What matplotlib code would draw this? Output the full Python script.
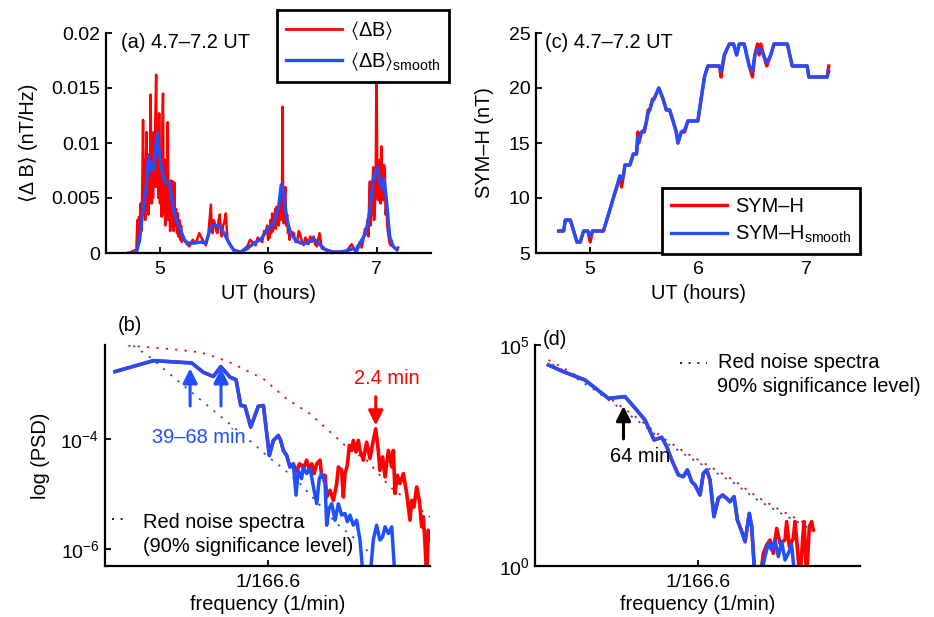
import numpy as np
import matplotlib
matplotlib.use("Agg")
import matplotlib.pyplot as plt
from matplotlib.ticker import NullLocator
from matplotlib.lines import Line2D

plt.rcParams['font.family'] = ['Liberation Sans', 'DejaVu Sans']
plt.rcParams['mathtext.fontset'] = 'custom'
plt.rcParams['mathtext.rm'] = 'Liberation Sans'
plt.rcParams['mathtext.it'] = 'Liberation Sans:italic'
plt.rcParams['mathtext.sf'] = 'Liberation Sans'
plt.rcParams['mathtext.fallback'] = 'stixsans'
plt.rcParams['font.size'] = 14.4

RED = '#ff0000'
BLUE = '#1f4fff'

# ---- (a) <dB> time series: (UT hours, nT/Hz) ----
db_raw_pts = [
    (4.709, 0.0), (4.780, 0.0003), (4.790, 0.0030), (4.798, 0.0012), (4.805, 0.0033),
    (4.812, 0.0010), (4.820, 0.0045), (4.828, 0.0020), (4.836, 0.0070), (4.842, 0.0121),
    (4.848, 0.0040), (4.855, 0.0085), (4.862, 0.0030), (4.868, 0.0080), (4.874, 0.0110),
    (4.880, 0.0040), (4.886, 0.0075), (4.892, 0.0035), (4.899, 0.0090), (4.906, 0.0050),
    (4.912, 0.0144), (4.920, 0.0045), (4.927, 0.0095), (4.934, 0.0050), (4.941, 0.0110),
    (4.948, 0.0060), (4.955, 0.0120), (4.963, 0.0162), (4.970, 0.0060), (4.977, 0.0105),
    (4.984, 0.0050), (4.991, 0.0127), (4.998, 0.0045), (5.005, 0.0090), (5.012, 0.0033),
    (5.020, 0.0110), (5.026, 0.0145), (5.033, 0.0035), (5.040, 0.0085), (5.047, 0.0025),
    (5.055, 0.0070), (5.062, 0.0040), (5.070, 0.0119), (5.077, 0.0030), (5.085, 0.0060),
    (5.092, 0.0020), (5.100, 0.0066), (5.108, 0.0025), (5.116, 0.0065), (5.124, 0.0020),
    (5.131, 0.0064), (5.139, 0.0025), (5.147, 0.0040), (5.155, 0.0018), (5.162, 0.0036),
    (5.170, 0.0015), (5.177, 0.0030), (5.185, 0.0012), (5.193, 0.0025), (5.200, 0.0010),
    (5.208, 0.0015), (5.239, 0.0009), (5.269, 0.0006), (5.300, 0.0012), (5.330, 0.0009),
    (5.361, 0.0018), (5.391, 0.0012), (5.422, 0.0007), (5.443, 0.0015), (5.468, 0.0044),
    (5.476, 0.0020), (5.483, 0.0018), (5.494, 0.0030), (5.505, 0.0027), (5.517, 0.0020),
    (5.529, 0.0018), (5.540, 0.0030), (5.550, 0.0035), (5.560, 0.0020), (5.569, 0.0015),
    (5.580, 0.0025), (5.590, 0.0027), (5.606, 0.0036), (5.621, 0.0012), (5.651, 0.0007),
    (5.682, 0.0003), (5.743, 0.0001), (5.804, 0.0006), (5.830, 0.0012), (5.850, 0.0010),
    (5.881, 0.0007), (5.900, 0.0014), (5.911, 0.0013), (5.942, 0.0010), (5.960, 0.0020),
    (5.972, 0.0018), (5.988, 0.0025), (5.996, 0.0012), (6.004, 0.0022), (6.011, 0.0014),
    (6.018, 0.0030), (6.026, 0.0018), (6.034, 0.0036), (6.041, 0.0020), (6.048, 0.0033),
    (6.055, 0.0024), (6.062, 0.0040), (6.068, 0.0022), (6.074, 0.0042), (6.081, 0.0026),
    (6.088, 0.0038), (6.095, 0.0025), (6.102, 0.0045), (6.110, 0.0030), (6.118, 0.0060),
    (6.124, 0.0035), (6.129, 0.0133), (6.135, 0.0040), (6.141, 0.0027), (6.148, 0.0050),
    (6.156, 0.0060), (6.163, 0.0025), (6.172, 0.0035), (6.180, 0.0018), (6.187, 0.0024),
    (6.195, 0.0012), (6.202, 0.0020), (6.233, 0.0018), (6.250, 0.0010), (6.263, 0.0010),
    (6.280, 0.0020), (6.294, 0.0016), (6.310, 0.0010), (6.325, 0.0007), (6.340, 0.0014),
    (6.355, 0.0012), (6.370, 0.0008), (6.386, 0.0015), (6.400, 0.0010), (6.416, 0.0015),
    (6.430, 0.0008), (6.447, 0.0006), (6.471, 0.0018), (6.493, 0.0004), (6.539, 0.0003),
    (6.600, 0.0001), (6.661, 0.0001), (6.722, 0.0002), (6.768, 0.0008), (6.799, 0.0002),
    (6.820, 0.0006), (6.844, 0.0010), (6.860, 0.0005), (6.875, 0.0012), (6.890, 0.0022),
    (6.906, 0.0019), (6.915, 0.0030), (6.922, 0.0015), (6.930, 0.0050), (6.936, 0.0065),
    (6.943, 0.0025), (6.951, 0.0036), (6.959, 0.0060), (6.967, 0.0078), (6.975, 0.0030),
    (6.982, 0.0040), (6.990, 0.0070), (6.997, 0.0178), (7.005, 0.0050), (7.013, 0.0048),
    (7.020, 0.0075), (7.028, 0.0085), (7.035, 0.0045), (7.043, 0.0097), (7.051, 0.0050),
    (7.059, 0.0048), (7.066, 0.0080), (7.074, 0.0075), (7.081, 0.0035), (7.089, 0.0042),
    (7.096, 0.0025), (7.104, 0.0018), (7.115, 0.0010), (7.126, 0.0007), (7.150, 0.0006),
    (7.181, 0.0003), (7.196, 0.0005)]
ut_db_s = [4.709, 4.780, 4.810, 4.841, 4.872, 4.893, 4.917, 4.939, 4.972, 4.994,
           5.016, 5.039, 5.085, 5.107, 5.138, 5.177, 5.223, 5.254, 5.315, 5.376,
           5.422, 5.468, 5.514, 5.544, 5.590, 5.636, 5.682, 5.743, 5.805, 5.865,
           5.927, 5.988, 6.049, 6.094, 6.117, 6.140, 6.165, 6.202, 6.248, 6.294,
           6.355, 6.416, 6.461, 6.523, 6.584, 6.661, 6.722, 6.783, 6.814, 6.844,
           6.899, 6.936, 6.966, 7.003, 7.028, 7.052, 7.067, 7.089, 7.119, 7.150,
           7.186]
db_smooth = [0.0, 0.0, 0.0012, 0.0039, 0.0060, 0.0088, 0.0075, 0.0077, 0.0109, 0.0088,
             0.0075, 0.0065, 0.0064, 0.0048, 0.0033, 0.0024, 0.0012, 0.0009, 0.0009, 0.0010,
             0.0009, 0.0024, 0.0025, 0.0025, 0.0018, 0.0009, 0.0002, 0.0001, 0.0004, 0.0009,
             0.0012, 0.0021, 0.0027, 0.0042, 0.0062, 0.0055, 0.0033, 0.0018, 0.0012, 0.0009,
             0.0009, 0.0013, 0.0009, 0.0003, 0.0001, 0.0001, 0.0002, 0.0004, 0.0002, 0.0009,
             0.0018, 0.0039, 0.0066, 0.0078, 0.0066, 0.0058, 0.0067, 0.0048, 0.0015, 0.0006,
             0.0003]

# ---- (c) SYM-H (nT) ----
ut_symh = [4.709, 4.755, 4.771, 4.817, 4.878, 4.908, 4.939, 4.979, 5.000, 5.021,
           5.122, 5.153, 5.184, 5.214, 5.245, 5.275, 5.290, 5.306, 5.321, 5.367,
           5.398, 5.428, 5.440, 5.450, 5.474, 5.500, 5.520, 5.535, 5.550, 5.575,
           5.590, 5.633, 5.673, 5.703, 5.734, 5.765, 5.795, 5.810, 5.841, 5.872,
           5.902, 5.994, 6.024, 6.055, 6.086, 6.116, 6.193, 6.208, 6.239, 6.284,
           6.324, 6.352, 6.376, 6.422, 6.468, 6.498, 6.520, 6.544, 6.560, 6.575,
           6.600, 6.630, 6.667, 6.697, 6.820, 6.865, 7.003, 7.018, 7.187, 7.202]
symh = [7, 7, 8, 8, 6, 6, 7, 7, 6, 7,
        7, 8, 9, 10, 11, 12, 11, 12, 13, 13,
        14, 14, 16, 15, 16, 16, 17, 18, 18, 19,
        19, 20, 19, 18, 18, 17, 16, 15, 16, 16,
        17, 17, 19, 21, 22, 22, 22, 21, 23, 24,
        24, 23, 24, 24, 22, 21, 23, 24, 23, 24,
        23, 22, 23, 24, 24, 22, 22, 21, 21, 22]
symh_smooth = [7, 7, 8, 8, 6, 6, 7, 7, 6.5, 7,
               7, 8, 9, 10, 11, 12, 11.7, 12, 13, 13,
               14, 14, 15.5, 15.3, 16, 16.2, 17, 17.7, 18, 18.8,
               19, 20, 19, 18, 18, 17, 16, 15, 16, 16.2,
               17, 17, 19, 21, 22, 22, 22, 21.5, 23, 24,
               24, 23, 24, 24, 22, 21.5, 23, 23.5, 23.5, 23.5,
               23, 22.3, 23, 24, 24, 22, 22, 21, 21, 21.5]

# ---- (b) PSD of <dB>, frequency in 1/min ----
f_b_smooth = [0.00381, 0.00760, 0.01514, 0.01866, 0.02234, 0.02553, 0.0302, 0.0336, 0.0366, 0.0395,
              0.0438, 0.0502, 0.0550, 0.0612, 0.0658, 0.0719, 0.0750, 0.0787, 0.0836, 0.0887,
              0.0942, 0.0989, 0.1030, 0.1094, 0.1127, 0.1199, 0.1274, 0.1352, 0.1436, 0.1503,
              0.1570, 0.1667, 0.1718, 0.1791, 0.1879, 0.1995, 0.2118, 0.2249, 0.2388, 0.2489,
              0.2612, 0.2773, 0.2944, 0.3126, 0.3319, 0.3524, 0.3741, 0.3972, 0.4217, 0.4477,
              0.4699, 0.4909, 0.5212, 0.5534, 0.5875]
psd_b_smooth = [1.71e-3, 2.70e-3, 2.45e-3, 1.66e-3, 1.39e-3, 2.10e-3, 1.35e-3, 1.22e-3, 4.13e-4, 4.01e-4,
                1.68e-4, 4.01e-4, 4.13e-4, 5.1e-5, 9.6e-5, 1.18e-4, 9.6e-5, 6.3e-5, 5.1e-5, 3.15e-5,
                3.6e-5, 9.7e-6, 2.74e-5, 1.94e-5, 3.15e-5, 2.39e-5, 2.94e-5, 1.37e-5, 6.8e-6, 1.94e-5,
                2.39e-5, 1.57e-5, 2.76e-6, 5.5e-6, 6.8e-6, 3.4e-6, 6.8e-6, 4.2e-6, 4.5e-6, 3.2e-6,
                4.2e-6, 2.76e-6, 3.4e-6, 1.48e-6, 3e-7, 3e-7, 3e-7, 1.48e-6, 2.76e-6, 1.48e-6,
                1.70e-6, 2.58e-6, 1.95e-6, 2.58e-6, 3e-7]
f_b_raw_hi = [0.0942, 0.1000, 0.1050, 0.1094, 0.1127, 0.1199, 0.1256, 0.1313, 0.1368, 0.1436,
              0.1524, 0.1570, 0.1667, 0.1718, 0.1824, 0.1936, 0.2056, 0.2118, 0.2249, 0.2317,
              0.2388, 0.2489, 0.2582, 0.2692, 0.2773, 0.2911, 0.3034, 0.3126, 0.3319, 0.3524,
              0.3741, 0.3972, 0.4150, 0.4345, 0.4477, 0.4699, 0.4909, 0.5212, 0.5534, 0.5702,
              0.5875, 0.6124, 0.6427, 0.6823, 0.7244, 0.7691, 0.7925, 0.8260, 0.8670, 0.9099,
              0.9484, 0.9772, 1.007, 1.038, 1.069, 1.102]
psd_b_raw_hi = [3.6e-5, 2.56e-5, 3.6e-5, 3.4e-5, 2.94e-5, 4.2e-5, 2.74e-5, 3.6e-5, 2.39e-5, 3.6e-5,
                4.2e-5, 2.08e-5, 2.23e-5, 9.0e-6, 1.19e-5, 7.8e-6, 1.57e-5, 3.15e-5, 2.74e-5, 9.0e-6,
                2.39e-5, 3.4e-5, 7.8e-5, 6.3e-5, 9.6e-5, 5.9e-5, 9.6e-5, 6.3e-5, 4.2e-5, 8.9e-5,
                4.5e-5, 9.6e-5, 1.56e-4, 6.3e-5, 2.74e-5, 4.8e-5, 2.08e-5, 6.3e-5, 3.15e-5, 6.3e-5,
                1.04e-5, 2.23e-5, 1.57e-5, 2.39e-5, 1.04e-5, 3.4e-6, 7.8e-6, 5.9e-6, 1.37e-5, 7.8e-6,
                2.58e-6, 3.9e-6, 1.29e-6, 3e-7, 2.24e-6, 1.48e-6]
f_b_noise_raw = [0.00484, 0.00716, 0.01227, 0.01758, 0.02371, 0.03206, 0.0550, 0.0836,
                 0.1274, 0.1718, 0.2460, 0.3524, 0.5370, 0.7691, 1.102]
psd_b_noise_raw = [5.06e-3, 4.72e-3, 4.22e-3, 3.83e-3, 3.10e-3, 2.36e-3, 1.26e-3, 5.46e-4,
                   2.92e-4, 1.56e-4, 7.3e-5, 4.2e-5, 1.37e-5, 7.3e-6, 3.9e-6]
f_b_noise_smooth = [0.00530, 0.00716, 0.01156, 0.01656, 0.02371, 0.03404, 0.04875, 0.0583,
                    0.0787, 0.1062, 0.1479, 0.2056, 0.2944, 0.3741]
psd_b_noise_smooth = [5.06e-3, 3.10e-3, 1.21e-3, 6.0e-4, 3.0e-4, 1.50e-4, 7.4e-5, 5.1e-5,
                      2.94e-5, 1.57e-5, 6.8e-6, 2.96e-6, 1.48e-6, 8.5e-7]

# ---- (d) PSD of SYM-H ----
f_d_smooth = [0.00405, 0.00530, 0.00783, 0.01191, 0.01607, 0.01982, 0.02301, 0.02710, 0.03112, 0.03404,
              0.03724, 0.04198, 0.04592, 0.04932, 0.05333, 0.05662, 0.06194, 0.06577, 0.06982, 0.07413,
              0.07962, 0.08610, 0.09311, 0.1000, 0.1062, 0.1143, 0.1213, 0.1313, 0.1393, 0.1503,
              0.1570, 0.1667, 0.1824, 0.1995, 0.2118, 0.2249, 0.2388, 0.2535, 0.2692, 0.2858,
              0.3034, 0.3221, 0.3420]
psd_d_smooth = [35300, 24900, 16100, 6210, 6780, 3380, 2010, 710, 815, 501,
                250, 115, 105, 149, 80.9, 68.0, 40.4, 125, 149, 88.3,
                13.1, 34.0, 40.4, 34.0, 28.5, 37.0, 11.0, 5.98, 3.55, 15.5,
                7.76, 0.5, 0.5, 1.63, 3.26, 2.30, 3.87, 1.63, 3.55, 1.37,
                1.93, 2.99, 0.5]
f_d_raw_hi = [0.1667, 0.1824, 0.1936, 0.2056, 0.2183, 0.2317, 0.2460, 0.2612, 0.2858, 0.2944,
              0.3090, 0.3319, 0.3420, 0.3524, 0.3741, 0.3926, 0.4027, 0.4217, 0.4426, 0.4613,
              0.4753]
psd_d_raw_hi = [0.5, 0.5, 1.93, 2.99, 3.87, 1.93, 7.11, 3.26, 3.87, 10.1,
                2.74, 4.23, 10.1, 3.87, 0.5, 3.87, 10.1, 0.5, 7.76, 10.1,
                6.52]
f_d_noise = [0.00405, 0.00597, 0.00910, 0.01384, 0.02104, 0.03206, 0.04875, 0.07413,
             0.1127, 0.1718, 0.2612, 0.4345]
psd_d_noise_raw = [45800, 24900, 11400, 4790, 2010, 773, 354, 177, 88.3, 37.0, 18.5, 8.47]
psd_d_noise_smooth = [41000, 21800, 10000, 4200, 1760, 680, 310, 155, 77, 32, 16, 7.4]

f_tick = 0.0595  # where the "1/166.6" tick sits
f_lim = (0.00318, 1.102)

ut_db, db_raw = zip(*db_raw_pts)
# raw spectra share the low-frequency part with the smoothed ones
f_b_raw = f_b_smooth[:20] + f_b_raw_hi
psd_b_raw = psd_b_smooth[:20] + psd_b_raw_hi
f_d_raw = f_d_smooth[:31] + f_d_raw_hi
psd_d_raw = psd_d_smooth[:31] + psd_d_raw_hi

W, H = 934, 617
fig = plt.figure(figsize=(W / 100, H / 100), dpi=100)


def box(x0, y0, x1, y1):
    return [x0 / W, 1 - y1 / H, (x1 - x0) / W, (y1 - y0) / H]


def style(ax):
    for s in ['top', 'right']:
        ax.spines[s].set_visible(False)
    for s in ['left', 'bottom']:
        ax.spines[s].set_linewidth(1.6)
    ax.tick_params(direction='in', length=4, width=1.3, labelsize=14)
    ax.tick_params(axis='x', pad=6)
    ax.tick_params(axis='y', pad=4)


def boxed_legend(ax, handles, labels, loc, anchor):
    leg = ax.legend(handles, labels, loc=loc, bbox_to_anchor=anchor, bbox_transform=fig.transFigure,
                    fancybox=False, edgecolor='black', framealpha=1, borderaxespad=0,
                    handlelength=2.8, handletextpad=0.4, fontsize=14.4, labelspacing=0.4,
                    borderpad=0.45)
    leg.get_frame().set_linewidth(2)
    return leg


ax_a = fig.add_axes(box(106, 33, 431, 253))
ax_c = fig.add_axes(box(536, 33, 861, 253))
ax_b = fig.add_axes(box(105, 345, 430, 566))
ax_d = fig.add_axes(box(535, 345, 860, 566))

# (a)
ax_a.plot(ut_db, db_raw, color=RED, lw=1.8)
ax_a.plot(ut_db_s, db_smooth, color=BLUE, lw=2.4)
ax_a.set_xlim(4.5, 7.5)
ax_a.set_ylim(0, 0.02)
ax_a.set_xticks([5, 6, 7])
ax_a.set_yticks([0, 0.005, 0.01, 0.015, 0.02])
ax_a.set_yticklabels(['0', '0.005', '0.01', '0.015', '0.02'])
ax_a.set_xlabel('UT (hours)')
ax_a.set_ylabel('⟨Δ B⟩ (nT/Hz)')
style(ax_a)
ax_a.xaxis.set_label_coords(0.5, -0.14)
ax_a.yaxis.set_label_coords(-0.21, 0.5)
ax_a.text(0.046, 0.955, '(a) 4.7–7.2 UT', transform=ax_a.transAxes, va='center', ha='left')
boxed_legend(ax_a, [Line2D([], [], color=RED, lw=2), Line2D([], [], color=BLUE, lw=2.4)],
             [r'$\langle\Delta\mathrm{B}\rangle$', r'$\langle\Delta\mathrm{B}\rangle_{\mathrm{smooth}}$'],
             'upper left', (277 / W, 1 - 10 / H))

# (c)
ax_c.plot(ut_symh, symh, color=RED, lw=2.4)
ax_c.plot(ut_symh, symh_smooth, color=BLUE, lw=2.4)
ax_c.set_xlim(4.5, 7.5)
ax_c.set_ylim(5, 25)
ax_c.set_xticks([5, 6, 7])
ax_c.set_yticks([5, 10, 15, 20, 25])
ax_c.set_xlabel('UT (hours)')
ax_c.set_ylabel('SYM–H (nT)')
style(ax_c)
ax_c.xaxis.set_label_coords(0.5, -0.14)
ax_c.yaxis.set_label_coords(-0.128, 0.5)
ax_c.text(0.028, 0.955, '(c) 4.7–7.2 UT', transform=ax_c.transAxes, va='center', ha='left')
boxed_legend(ax_c, [Line2D([], [], color=RED, lw=2.4), Line2D([], [], color=BLUE, lw=2.4)],
             ['SYM–H', r'SYM–H$_{\mathrm{smooth}}$'],
             'lower left', (662 / W, 1 - 254 / H))

dots = (0, (1.2, 4))

# (b)
ax_b.plot(f_b_noise_raw, psd_b_noise_raw, color=RED, lw=1.3, ls=dots)
ax_b.plot(f_b_noise_smooth, psd_b_noise_smooth, color=BLUE, lw=1.3, ls=dots)
ax_b.plot(f_b_raw, psd_b_raw, color=RED, lw=2.6)
ax_b.plot(f_b_smooth, psd_b_smooth, color=BLUE, lw=2.5)
ax_b.set_xscale('log')
ax_b.set_yscale('log')
ax_b.set_xlim(*f_lim)
ax_b.set_ylim(5.0e-7, 5.2e-3)
ax_b.set_xticks([f_tick])
ax_b.set_xticklabels(['1/166.6'])
ax_b.set_yticks([1e-6, 1e-4])
ax_b.set_yticklabels([r'$\mathregular{10^{-6}}$', r'$\mathregular{10^{-4}}$'])
ax_b.xaxis.set_minor_locator(NullLocator())
ax_b.yaxis.set_minor_locator(NullLocator())
ax_b.set_xlabel('frequency (1/min)')
ax_b.set_ylabel('log (PSD)')
style(ax_b)
ax_b.xaxis.set_label_coords(0.5, -0.13)
ax_b.yaxis.set_label_coords(-0.17, 0.5)
ax_b.text(0.04, 1.09, '(b)', transform=ax_b.transAxes, va='center', ha='left')
for fa in [1 / 68, 1 / 39]:
    ax_b.annotate('', xy=(fa, 2.2e-3), xytext=(fa, 3.6e-4),
                  arrowprops=dict(arrowstyle='-|>', color=BLUE, lw=2.2, mutation_scale=22))
ax_b.text(0.0171, 1.1e-4, '39–68 min', color=BLUE, ha='center', va='center')
ax_b.annotate('', xy=(0.415, 1.6e-4), xytext=(0.415, 6.7e-4),
              arrowprops=dict(arrowstyle='-|>', color=RED, lw=2.2, mutation_scale=22))
ax_b.text(0.506, 1.26e-3, '2.4 min', color=RED, ha='center', va='center')
ax_b.plot([0.021, 0.071], [0.213, 0.213], transform=ax_b.transAxes, color='black', lw=1.2, ls=dots)
ax_b.text(0.117, 0.195, 'Red noise spectra', transform=ax_b.transAxes, va='center', ha='left')
ax_b.text(0.117, 0.086, '(90% significance level)', transform=ax_b.transAxes, va='center', ha='left')

# (d)
ax_d.plot(f_d_noise, psd_d_noise_raw, color=RED, lw=1.3, ls=dots)
ax_d.plot(f_d_noise, psd_d_noise_smooth, color=BLUE, lw=1.3, ls=(2.6, (1.2, 4)))
ax_d.plot(f_d_raw, psd_d_raw, color=RED, lw=2.6)
ax_d.plot(f_d_smooth, psd_d_smooth, color=BLUE, lw=2.5)
ax_d.set_xscale('log')
ax_d.set_yscale('log')
ax_d.set_xlim(*f_lim)
ax_d.set_ylim(1, 1e5)
ax_d.set_xticks([f_tick])
ax_d.set_xticklabels(['1/166.6'])
ax_d.set_yticks([1, 1e5])
ax_d.set_yticklabels([r'$\mathregular{10^{0}}$', r'$\mathregular{10^{5}}$'])
ax_d.xaxis.set_minor_locator(NullLocator())
ax_d.yaxis.set_minor_locator(NullLocator())
ax_d.set_xlabel('frequency (1/min)')
style(ax_d)
ax_d.xaxis.set_label_coords(0.5, -0.13)
ax_d.text(0.025, 1.023, '(d)', transform=ax_d.transAxes, va='center', ha='left')
ax_d.annotate('', xy=(1 / 64, 4790), xytext=(1 / 64, 650),
              arrowprops=dict(arrowstyle='-|>', color='black', lw=2.2, mutation_scale=22))
ax_d.text(0.02104, 298, '64 min', color='black', ha='center', va='center')
ax_d.plot([0.446, 0.529], [0.919, 0.919], transform=ax_d.transAxes, color='black', lw=1.2, ls=dots)
ax_d.text(0.563, 0.919, 'Red noise spectra', transform=ax_d.transAxes, va='center', ha='left')
ax_d.text(0.560, 0.81, '90% significance level)', transform=ax_d.transAxes, va='center', ha='left')

fig.savefig('out.png', dpi=100)
